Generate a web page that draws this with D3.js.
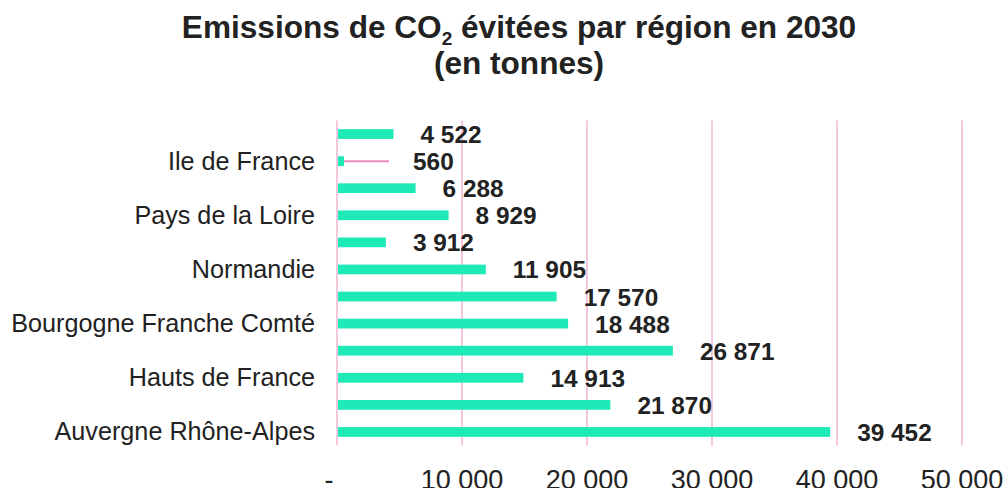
<!DOCTYPE html>
<html>
<head>
<meta charset="utf-8">
<style>
  body { margin: 0; background: #fff; }
  text { font-family: "Liberation Sans", Arial, sans-serif; fill: #222; }
  .title { font-weight: bold; font-size: 31.6px; }
  .cat { font-size: 25.2px; }
  .val { font-weight: bold; font-size: 24.4px; }
  .tick { font-size: 27px; }
</style>
<script src="https://d3js.org/d3.v7.min.js"></script>
</head>
<body>
<div id="chart"></div>
<script>
// regions, top to bottom (only every other name is printed on the chart)
var categories = ["Centre-Val de Loire", "Ile de France", "Bretagne", "Pays de la Loire",
  "Provence-Alpes-Côte d'Azur", "Normandie", "Nouvelle-Aquitaine", "Bourgogne Franche Comté",
  "Grand Est", "Hauts de France", "Occitanie", "Auvergne Rhône-Alpes"];
var shownLabels = ["Ile de France", "Pays de la Loire", "Normandie",
  "Bourgogne Franche Comté", "Hauts de France", "Auvergne Rhône-Alpes"];
var values = [4522, 560, 6288, 8929, 3912, 11905, 17570, 18488, 26871, 14913, 21870, 39452];
var xTicks = [0, 10000, 20000, 30000, 40000, 50000];
var leaderValue = 4160; // where the leader line of too-short bars ends

var W = 1006, H = 488;
var margin = {top: 120.5, right: 44, bottom: 42.5, left: 337};

var svg = d3.select("#chart").append("svg")
    .attr("width", W).attr("height", H);

// title
var title = svg.append("text").attr("class", "title")
    .attr("text-anchor", "middle").attr("x", 519).attr("y", 38);
title.append("tspan").text("Emissions de CO");
title.append("tspan").attr("font-size", "19px").attr("dy", 7).text("2");
title.append("tspan").attr("dy", -7).text(" évitées par région en 2030");
svg.append("text").attr("class", "title")
    .attr("text-anchor", "middle").attr("x", 519).attr("y", 73.5)
    .text("(en tonnes)");

var x = d3.scaleLinear()
    .domain([0, 50000])
    .range([margin.left, margin.left + 625]);

var y = d3.scaleBand()
    .domain(categories)
    .range([margin.top, H - margin.bottom]);

var fr = d3.formatLocale({decimal: ",", thousands: " ", grouping: [3], currency: ["", " €"]});
var fmt = function(v) { return v === 0 ? "-" : fr.format(",d")(v); };

// gridlines
svg.append("g").selectAll("line")
  .data(xTicks)
  .join("line")
    .attr("x1", function(d) { return x(d); })
    .attr("x2", function(d) { return x(d); })
    .attr("y1", margin.top)
    .attr("y2", H - margin.bottom)
    .attr("stroke", "#f6c6de")
    .attr("stroke-width", 2);

// x axis labels
svg.append("g").selectAll("text")
  .data(xTicks)
  .join("text")
    .attr("class", "tick")
    .attr("text-anchor", "middle")
    .attr("x", function(d) { return x(d) + (d === 0 ? -8 : 0); })
    .attr("y", 489)
    .text(fmt);

// category labels
svg.append("g").selectAll("text")
  .data(categories.filter(function(c) { return shownLabels.indexOf(c) >= 0; }))
  .join("text")
    .attr("class", "cat")
    .attr("text-anchor", "end")
    .attr("x", 315)
    .attr("y", function(d) { return y(d) + y.bandwidth() / 2 + 8.5; })
    .text(function(d) { return d; });

var barH = y.bandwidth() * 0.36;

// bars
svg.append("g").selectAll("rect")
  .data(values)
  .join("rect")
    .attr("x", x(0) + 1)
    .attr("y", function(d, i) { return y(categories[i]) + (y.bandwidth() - barH) / 2; })
    .attr("width", function(d) { return x(d) - x(0) - 1; })
    .attr("height", barH)
    .attr("fill", "#1eeab8");

// leader lines for very short bars
svg.append("g").selectAll("line")
  .data(values.map(function(v, i) { return {v: v, c: categories[i]}; })
    .filter(function(d) { return d.v < 2000; }))
  .join("line")
    .attr("x1", function(d) { return x(d.v); })
    .attr("x2", x(leaderValue))
    .attr("y1", function(d) { return y(d.c) + y.bandwidth() / 2; })
    .attr("y2", function(d) { return y(d.c) + y.bandwidth() / 2; })
    .attr("stroke", "#ec8cc0")
    .attr("stroke-width", 2);

// value labels
svg.append("g").selectAll("text")
  .data(values)
  .join("text")
    .attr("class", "val")
    .attr("x", function(d) { return d < 2000 ? x(leaderValue) + 24 : x(d) + 27; })
    .attr("y", function(d, i) { return y(categories[i]) + y.bandwidth() / 2 + 9; })
    .text(fmt);
</script>
</body>
</html>
